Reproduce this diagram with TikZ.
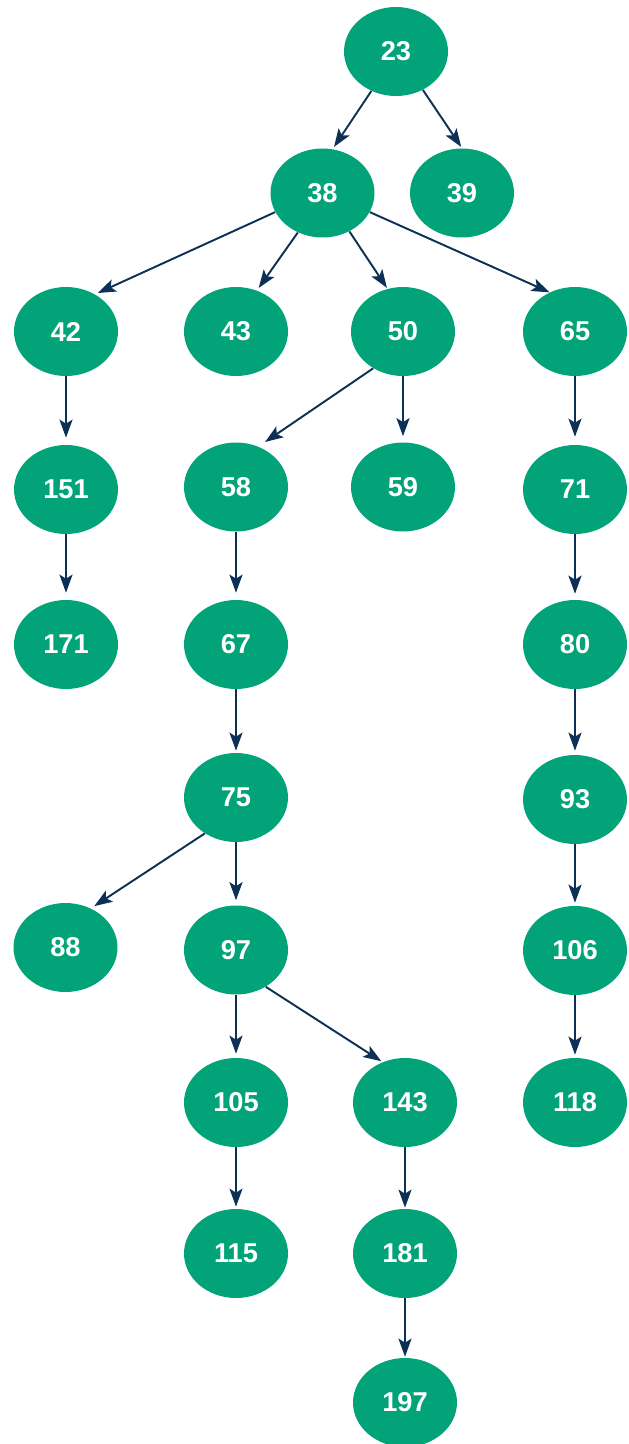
\documentclass[tikz,border=0pt]{standalone}
\usepackage{fontspec}
\setmainfont{Liberation Sans}
\usetikzlibrary{shapes.geometric,arrows.meta}
\definecolor{nodegreen}{RGB}{2,163,120}
\definecolor{edgenavy}{RGB}{12,48,86}
\begin{document}
\begin{tikzpicture}[x=0.02cm,y=-0.02cm,
  vtx/.style={ellipse,fill=nodegreen,draw=none,inner sep=0pt,
    minimum width=2.08cm,minimum height=1.78cm,
    text=white,font=\fontsize{15.5}{18}\selectfont\bfseries},
  lnk/.style={draw=edgenavy,line width=1.1pt,
    -{Stealth[length=0.36cm,width=0.26cm,inset=0.08cm]}},
  gap/.style={shorten >=#1}]
\useasboundingbox (0,0) rectangle (629,1444);

% level 0 and 1
\node[vtx] (n23) at (396,51.5) {23};
\node[vtx] (n38) at (322.5,193) {38};
\node[vtx] (n39) at (462,193) {39};

% level 2
\node[vtx] (n42) at (66,331.5) {42};
\node[vtx] (n43) at (236,331.5) {43};
\node[vtx] (n50) at (403,331.5) {50};
\node[vtx] (n65) at (575,331.5) {65};

% level 3
\node[vtx] (n151) at (66,489.5) {151};
\node[vtx] (n58) at (236,487) {58};
\node[vtx] (n59) at (403,487) {59};
\node[vtx] (n71) at (575,489.5) {71};

% level 4
\node[vtx] (n171) at (66,644.5) {171};
\node[vtx] (n67) at (236,644.5) {67};
\node[vtx] (n80) at (575,644.5) {80};

% level 5
\node[vtx] (n75) at (236,797.5) {75};
\node[vtx] (n93) at (575,799.5) {93};

% level 6
\node[vtx] (n88) at (65.5,947.5) {88};
\node[vtx] (n97) at (236,950) {97};
\node[vtx] (n106) at (575,950.5) {106};

% level 7
\node[vtx] (n105) at (236,1102.5) {105};
\node[vtx] (n143) at (405,1102.5) {143};
\node[vtx] (n118) at (575,1102.5) {118};

% level 8 and 9
\node[vtx] (n115) at (236,1253.5) {115};
\node[vtx] (n181) at (405,1253.5) {181};
\node[vtx] (n197) at (405,1402.5) {197};

% connectors
\draw[lnk,gap=0.05cm] (n23.238) -- (n38.77);
\draw[lnk,gap=0.03cm] (n23.305) -- (n39.north);
\draw[lnk,gap=0.06cm] (n38.202) -- (n42.52);
\draw[lnk,gap=0.06cm] (n38.238) -- (n43.63);
\draw[lnk,gap=0.02cm] (n38.305) -- (n50.110);
\draw[lnk] (n38.338) -- (n65.123);
\draw[lnk,gap=0.14cm] (n42.south) -- (n151.north);
\draw[lnk,gap=0.14cm] (n151.south) -- (n171.north);
\draw[lnk,gap=0.16cm] (n50.231) -- (n58.61);
\draw[lnk,gap=0.12cm] (n50.south) -- (n59.north);
\draw[lnk,gap=0.16cm] (n65.south) -- (n71.north);
\draw[lnk,gap=0.14cm] (n58.south) -- (n67.north);
\draw[lnk,gap=0.12cm] (n71.south) -- (n80.north);
\draw[lnk,gap=0.04cm] (n67.south) -- (n75.north);
\draw[lnk,gap=0.08cm] (n80.south) -- (n93.north);
\draw[lnk,gap=0.08cm] (n75.229) -- (n88.57);
\draw[lnk,gap=0.1cm] (n75.south) -- (n97.north);
\draw[lnk,gap=0.06cm] (n93.south) -- (n106.north);
\draw[lnk,gap=0.08cm] (n97.south) -- (n105.north);
\draw[lnk,gap=0.03cm] (n97.309) -- (n143.119);
\draw[lnk,gap=0.06cm] (n106.south) -- (n118.north);
\draw[lnk,gap=0.04cm] (n105.south) -- (n115.north);
\draw[lnk,gap=0.02cm] (n143.south) -- (n181.north);
\draw[lnk,gap=0.02cm] (n181.south) -- (n197.north);
\end{tikzpicture}
\end{document}
